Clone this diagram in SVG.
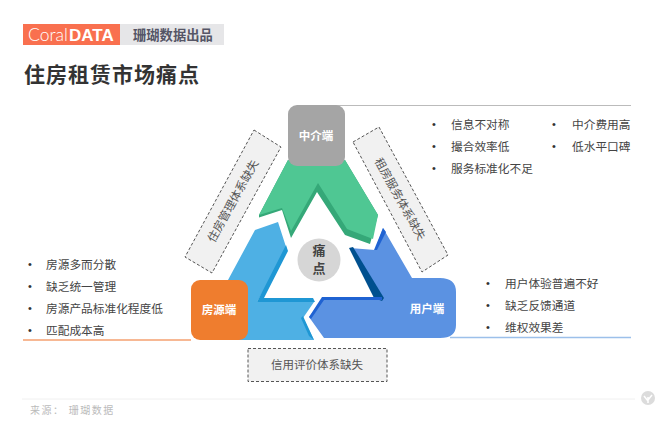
<svg xmlns="http://www.w3.org/2000/svg" width="660" height="431" viewBox="0 0 660 431">
<style>
text{font-family:"Liberation Sans","Noto Sans CJK SC",sans-serif}
.b{font-size:11.700px;fill:#444}
.d{fill:#333;font-size:11px}
.dash{fill:#f1f1f1;stroke:#555;stroke-width:1;stroke-dasharray:3 2}
.lab{font-size:11.500px;fill:#555;text-anchor:middle}
.n{font-size:11.500px;fill:#fff;font-weight:bold;text-anchor:middle}
</style>
<rect width="660" height="431" fill="#fff"/>
<g id="header">
<rect x="23" y="24" width="97" height="21" fill="#f9704f"/>
<rect x="120" y="24" width="104" height="21" fill="#e6e6e8"/>
<text x="28" y="41" font-size="17.500" fill="#fff" font-weight="300" style="font-family:Lato,'Liberation Sans',sans-serif">Coral</text>
<text x="69" y="41" font-size="17" fill="#fff" font-weight="bold">DATA</text>
<text x="133" y="40" font-size="13.300" fill="#555566" font-weight="bold">珊瑚数据出品</text>
<text x="24" y="82" font-size="21" fill="#333" font-weight="bold" letter-spacing="1">住房租赁市场痛点</text>
</g>
<g id="lines" fill="none" stroke-width="1">
<path d="M336 105.500H631" stroke="#bbb"/>
<path d="M23 340H191" stroke="#f4a070" stroke-width="1.500"/>
<path d="M450 337.500H631" stroke="#9cc0ea" stroke-width="1.500"/>
<path d="M22 399H635" stroke="#f0f0f0"/>
</g>
<g id="connectors">
<path fill="#35a878" d="M288 160H345L378 215L370 244L345 235L317 192L291 238L282 210L259 217.500L259 215Z"/>
<path fill="#4fc793" d="M288 160H345L378 215L373 239L347 229L318 183L291 231L282 208L259 215Z"/>
<path fill="#4eb0e4" d="M278 222L255 230L228 280H200V340H314L303 318L314 302H257L287 250Z"/>
<path fill="#1f97d4" d="M286 245L288 251L264 298H313L315 302H257Z"/>
<path fill="#1f97d4" d="M301 318L303 316L314 340L309 336Z"/>
<path fill="#5b92e2" d="M383 228L375 250L350 248L382 300H322L309 317L324 338H440Q456 338 456 325V292Q456 278 440 278H412Z"/>
<path fill="#00508f" d="M349 248L353 247L384 298L382 301L374 298Z"/>
<path fill="#1f62d2" d="M309 317L322 297H382V300H324L311 319Z"/>
<path fill="#1f62d2" d="M383 228L374 250L377 250L386 232Z"/>
</g>
<g id="center">
<circle cx="319" cy="260" r="21.500" fill="#d6d6d6"/>
<text x="319" y="255" font-size="13" font-weight="bold" fill="#444" text-anchor="middle">痛</text>
<text x="319" y="273" font-size="13" font-weight="bold" fill="#444" text-anchor="middle">点</text>
</g>
<g id="node-agent">
<rect x="288" y="105" width="57" height="61" rx="9" fill="#a5a5a5"/>
<text class="n" x="316" y="140">中介端</text>
</g>
<g id="node-source">
<rect x="191" y="280" width="57" height="60" rx="9" fill="#ef7d2e"/>
<text class="n" x="219" y="314">房源端</text>
</g>
<g id="node-user">
<text class="n" x="427" y="313">用户端</text>
</g>
<g id="gap-left">
<polygon class="dash" points="254,130 281,147 212,273 185,257"/>
<text class="lab" transform="translate(233 201) rotate(-61)" y="4">住房管理体系缺失</text>
</g>
<g id="gap-right">
<polygon class="dash" points="353,142 379,127 448,255 422,272"/>
<text class="lab" transform="translate(400 199) rotate(61)" y="4">租房服务体系缺失</text>
</g>
<g id="gap-bottom">
<rect class="dash" x="248" y="348.500" width="139" height="33"/>
<text class="lab" x="317" y="369">信用评价体系缺失</text>
</g>
<g id="list-agent">
<text class="d" x="432" y="128">•</text><text class="b" x="451" y="129">信息不对称</text>
<text class="d" x="432" y="150">•</text><text class="b" x="451" y="151">撮合效率低</text>
<text class="d" x="432" y="172">•</text><text class="b" x="451" y="173">服务标准化不足</text>
<text class="d" x="552" y="128">•</text><text class="b" x="572" y="129">中介费用高</text>
<text class="d" x="552" y="150">•</text><text class="b" x="572" y="151">低水平口碑</text>
</g>
<g id="list-source">
<text class="d" x="28" y="268">•</text><text class="b" x="46" y="269">房源多而分散</text>
<text class="d" x="28" y="290">•</text><text class="b" x="46" y="291">缺乏统一管理</text>
<text class="d" x="28" y="312">•</text><text class="b" x="46" y="313">房源产品标准化程度低</text>
<text class="d" x="28" y="334">•</text><text class="b" x="46" y="335">匹配成本高</text>
</g>
<g id="list-user">
<text class="d" x="486" y="287">•</text><text class="b" x="505" y="288">用户体验普遍不好</text>
<text class="d" x="486" y="309">•</text><text class="b" x="505" y="310">缺乏反馈通道</text>
<text class="d" x="486" y="331">•</text><text class="b" x="505" y="332">维权效果差</text>
</g>
<g id="footer">
<text x="30" y="414" font-size="10" fill="#bbb" letter-spacing="1.500">来源： 珊瑚数据</text>
<circle cx="648" cy="398" r="7" fill="#dcdcdc"/>
<path d="M648 403V397M648 401L644 396M648 400L652 395" fill="none" stroke="#fff" stroke-width="1.500"/>
</g>
</svg>
